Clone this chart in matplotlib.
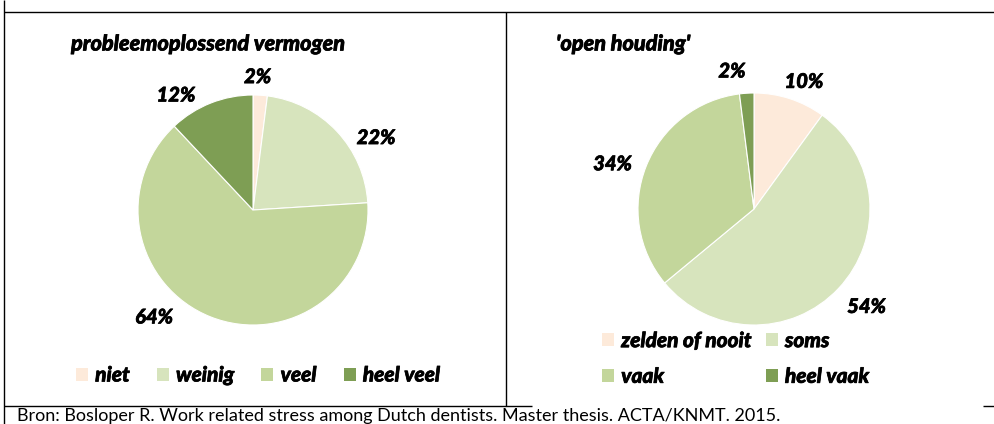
import matplotlib
matplotlib.use("Agg")
import matplotlib.pyplot as plt
from matplotlib.patches import Patch
from matplotlib.lines import Line2D
import matplotlib.patheffects as pe

# ---------------- data ----------------
title1 = "probleemoplossend vermogen"
cats1 = ["niet", "weinig", "veel", "heel veel"]
vals1 = [2, 22, 64, 12]

title2 = "'open houding'"
cats2 = ["zelden of nooit", "soms", "vaak", "heel vaak"]
vals2 = [10, 54, 34, 2]

source = "Bron: Bosloper R. Work related stress among Dutch dentists. Master thesis. ACTA/KNMT. 2015."

colors = ["#FDEADA", "#D7E4BD", "#C3D69B", "#7E9E54"]

# ---------------- layout ----------------
W, H = 995, 424
fig = plt.figure(figsize=(W / 100, H / 100), dpi=100)
fig.patch.set_facecolor("white")

BI = dict(family=["Lato", "DejaVu Sans"], weight=900, style="italic")
THICK = [pe.withStroke(linewidth=0.5, foreground="black")]


def px_axes(cx, cy, r):
    return fig.add_axes([(cx - r) / W, (H - cy - r) / H, 2 * r / W, 2 * r / H])


def fx(x):
    return x / W


def fy(y):
    return 1 - y / H


# label positions (in pie-radius units) -- layout only
lab_pos1 = [(0.04, 1.16), (1.07, 0.63), (-0.86, -0.93), (-0.67, 1.00)]
lab_pos2 = [(0.43, 1.10), (0.97, -0.84), (-1.22, 0.39), (-0.19, 1.19)]


def draw_pie(cx, cy, r, vals, lab_pos):
    ax = px_axes(cx, cy, r)
    ax.pie(vals, colors=colors, startangle=90, counterclock=False, radius=1,
           wedgeprops=dict(edgecolor="white", linewidth=0.8))
    ax.set_xlim(-1, 1)
    ax.set_ylim(-1, 1)
    ax.set_aspect("equal")
    ax.axis("off")
    for v, (lx, ly) in zip(vals, lab_pos):
        ax.text(lx, ly, f"{v}%", ha="center", va="center", fontsize=14.5,
                clip_on=False, path_effects=THICK, **BI)
    return ax


draw_pie(253, 210, 115, vals1, lab_pos1)
draw_pie(754, 209, 116, vals2, lab_pos2)

# titles
fig.text(fx(71), fy(44), title1, ha="left", va="center", fontsize=15.6,
         path_effects=THICK, **BI)
fig.text(fx(556), fy(44), title2, ha="left", va="center", fontsize=15.6,
         path_effects=THICK, **BI)

# legends
handles = [Patch(facecolor=c, edgecolor="none") for c in colors]
leg_kw = dict(frameon=False, prop=dict(size=15, **BI), handlelength=0.58,
              handleheight=0.58, handletextpad=0.34, borderaxespad=0, borderpad=0)
leg1 = fig.legend(handles, cats1, ncol=4, loc="center left",
                  bbox_to_anchor=(fx(76), fy(375)), columnspacing=1.3, **leg_kw)

# ncol=2 fills column by column: reorder so the entries read row by row
order2 = list(range(0, 4, 2)) + list(range(1, 4, 2))
leg2 = fig.legend([handles[i] for i in order2], [cats2[i] for i in order2], ncol=2,
                  loc="center left", bbox_to_anchor=(fx(602), fy(358.5)),
                  columnspacing=0.67, labelspacing=0.8, **leg_kw)
for leg in (leg1, leg2):
    for t in leg.get_texts():
        t.set_path_effects(THICK)

# table borders
lw = 1.0
for (x0, y0, x1, y1) in [(4, 12, 995, 12), (4, 0, 4, 424), (506, 12, 506, 406),
                         (4, 406, 532, 406), (983, 406, 995, 406)]:
    fig.add_artist(Line2D([fx(x0), fx(x1)], [fy(y0), fy(y1)], color="black",
                          linewidth=lw, solid_capstyle="butt"))

# source text
fig.text(fx(17), fy(421.5), source, ha="left", va="baseline", fontsize=13,
         family=["Lato", "DejaVu Sans"])

fig.savefig("out.png", dpi=100)
